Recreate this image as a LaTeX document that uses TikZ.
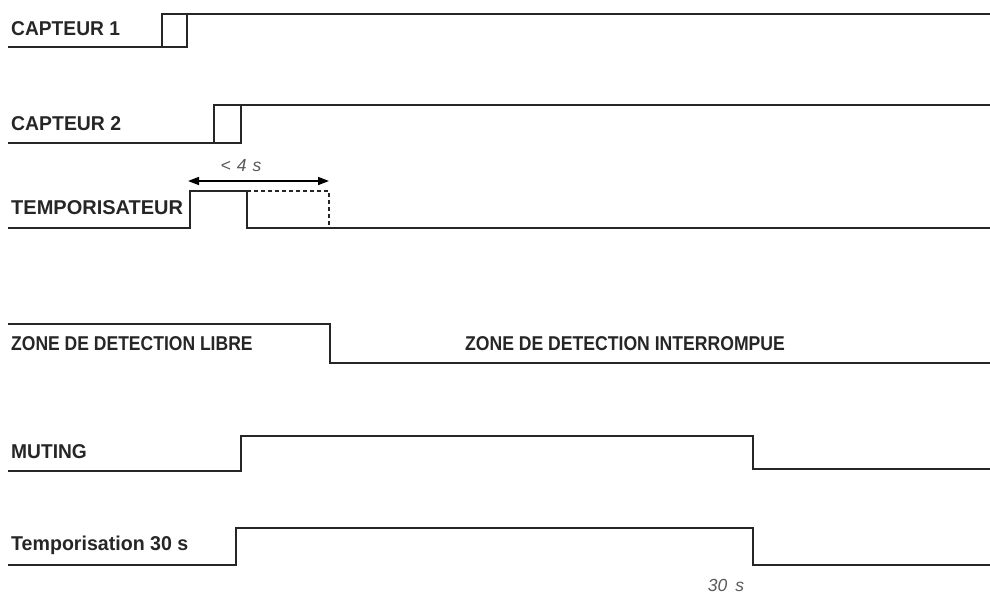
\documentclass[tikz,border=0pt]{standalone}
\usepackage{fontspec}
\setmainfont{Liberation Sans}
\usetikzlibrary{arrows.meta}
\newcommand{\sxw}[2]{\scalebox{#1}[1]{#2}}
\begin{document}
\begin{tikzpicture}[x=1pt,y=-1pt,
  sig/.style={line width=1.7pt,color=black!85,line join=miter},
  lab/.style={inner sep=0pt,anchor=base west,font=\bfseries\fontsize{20}{20}\selectfont,text=black!85},
  dur/.style={inner sep=0pt,font=\itshape\fontsize{17.5}{18}\selectfont,text=black!65},
  dim/.style={line width=1.6pt,{Triangle[length=11pt,width=8pt]}-{Triangle[length=11pt,width=8pt]}}]
\useasboundingbox (0,0) rectangle (990,597);
% labels
\node[lab] (c1) at (11,35) {\sxw{0.96}{CAPTEUR 1}};
\node[lab] (c2) at (11,130) {\sxw{0.97}{CAPTEUR 2}};
\node[lab] (tp) at (11,214) {\sxw{1.0}{TEMPORISATEUR}};
\node[lab] (zl) at (11,350) {\sxw{0.876}{ZONE DE DETECTION LIBRE}};
\node[lab,anchor=base] (zi) at (625,350) {\sxw{0.88}{ZONE DE DETECTION INTERROMPUE}};
\node[lab] (mu) at (11,458) {\sxw{0.96}{MUTING}};
\node[lab] (t30) at (11,550) {\sxw{0.98}{Temporisation 30 s}};
% capteur 1
\draw[sig] (8,47) -- (187,47) -- (187,14);
\draw[sig] (162,47) -- (162,14) -- (990,14);
% capteur 2
\draw[sig] (8,143) -- (241,143) -- (241,105);
\draw[sig] (214,143) -- (214,105) -- (990,105);
% temporisateur
\draw[sig] (8,228) -- (190,228) -- (190,191) -- (247,191) -- (247,228) -- (990,228);
\draw[sig,line width=1.2pt,dashed,dash pattern=on 4pt off 3pt] (247,191) -- (329,191) -- (329,228);
\coordinate (a1) at (188,181);
\coordinate (a2) at (329,181);
\draw[dim] (a1) -- (a2);
\node[dur] (d4) at (241,166) {<\hspace{6pt}4\hspace{6pt}s};
% zone
\draw[sig] (8,324) -- (330,324) -- (330,363) -- (990,363);
% muting
\draw[sig] (8,471) -- (241,471) -- (241,436) -- (753,436) -- (753,469) -- (990,469);
% temporisation 30 s
\draw[sig] (8,565) -- (236,565) -- (236,528) -- (753,528) -- (753,565) -- (990,565);
\node[dur] (d30) at (726,585) {30\hspace{8pt}s};
\end{tikzpicture}
\end{document}
